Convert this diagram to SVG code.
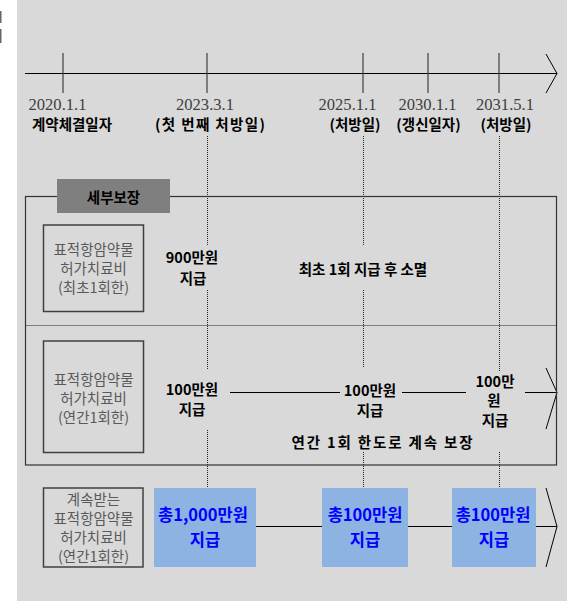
<svg xmlns="http://www.w3.org/2000/svg" width="567" height="601" viewBox="0 0 567 601">
<style>
.bg{fill:#d9d9d9}
.date{font-family:"Liberation Serif",serif;font-size:17px;fill:#404040;text-anchor:middle}
.lbl{font-family:"Noto Sans CJK KR",sans-serif;font-weight:700;font-size:14.5px;fill:#000;text-anchor:middle}
.box{fill:#d9d9d9;stroke:#404040;stroke-width:1.5}
.btxt{font-family:"Noto Sans CJK KR",sans-serif;font-size:14.5px;fill:#595959;text-anchor:middle}
.blue{fill:#8db3e2}
.btx{font-family:"Noto Sans CJK KR",sans-serif;font-weight:700;font-size:16.5px;fill:#0000ff;text-anchor:middle}
.ln{stroke:#000;stroke-width:1;fill:none}
.tick{stroke:#404040;stroke-width:1.2}
.dot{stroke:#262626;stroke-width:1;stroke-dasharray:1,1;fill:none}
</style>
<rect x="0" y="11" width="1.5" height="12" fill="#666"/>
<rect x="0" y="29" width="1.5" height="14" fill="#666"/>
<rect class="bg" x="17" y="0" width="550" height="601"/>

<g id="connectors">
  <line class="ln" x1="25" y1="73.5" x2="557" y2="73.5"/>
  <polyline class="ln" points="546,54 557,73.5 546,93"/>
  <line class="tick" x1="63" y1="53" x2="63" y2="93"/>
  <line class="tick" x1="207" y1="53" x2="207" y2="93"/>
  <line class="tick" x1="363" y1="53" x2="363" y2="93"/>
  <line class="tick" x1="428" y1="53" x2="428" y2="93"/>
  <line class="tick" x1="499" y1="53" x2="499" y2="93"/>
  <path class="dot" d="M207.5,136V245M207.5,290V370M207.5,430V488M363.5,136V245M363.5,290V368M363.5,452V488M499.5,136V371M499.5,452V488"/>
  <path class="ln" d="M230,392.5H340M402,392.5H466M525,392.5H557"/>
  <polyline class="ln" points="546,368 557,392.5 546,429"/>
  <path class="ln" d="M256,526.5H322M408,526.5H452M536,526.5H557"/>
  <polyline class="ln" points="546,488 557,526.5 546,567"/>
</g>

<g id="dates">
  <text class="date" x="57.5" y="110" textLength="58" lengthAdjust="spacingAndGlyphs">2020.1.1</text>
  <text class="date" x="205" y="110" textLength="58" lengthAdjust="spacingAndGlyphs">2023.3.1</text>
  <text class="date" x="347.5" y="110" textLength="58" lengthAdjust="spacingAndGlyphs">2025.1.1</text>
  <text class="date" x="427.5" y="110" textLength="58" lengthAdjust="spacingAndGlyphs">2030.1.1</text>
  <text class="date" x="505" y="110" textLength="58" lengthAdjust="spacingAndGlyphs">2031.5.1</text>
  <text class="lbl" x="72" y="130">계약체결일자</text>
  <text class="lbl" x="210" y="130" textLength="110" lengthAdjust="spacing">(첫 번째 처방일)</text>
  <text class="lbl" x="355" y="130">(처방일)</text>
  <text class="lbl" x="428.5" y="130">(갱신일자)</text>
  <text class="lbl" x="506" y="130">(처방일)</text>
</g>

<g id="section">
  <rect x="25.5" y="196.5" width="531" height="268.5" fill="none" stroke="#333" stroke-width="1.2"/>
  <line class="dot" x1="25.5" y1="325.5" x2="556.5" y2="325.5"/>
</g>
<g id="tab">
  <rect x="57" y="179" width="113" height="34" fill="#7f7f7f"/>
  <text class="lbl" x="113.5" y="202.5" font-size="15">세부보장</text>
</g>

<g id="box-first">
  <rect class="box" x="43.5" y="225" width="100" height="86.5"/>
  <text class="btxt" x="93.5" y="254.5">표적항암약물</text>
  <text class="btxt" x="93.5" y="273.5">허가치료비</text>
  <text class="btxt" x="93.5" y="292.5">(최초1회한)</text>
</g>
<g id="first-pay">
  <text class="lbl" x="192" y="263">900만원</text>
  <text class="lbl" x="193" y="283.5">지급</text>
</g>
<g id="first-note">
  <text class="lbl" x="363" y="274.5">최초 1회 지급 후 소멸</text>
</g>

<g id="box-annual">
  <rect class="box" x="43.5" y="341" width="100" height="111.5"/>
  <text class="btxt" x="93.5" y="384.5">표적항암약물</text>
  <text class="btxt" x="93.5" y="403.5">허가치료비</text>
  <text class="btxt" x="93.5" y="422.5">(연간1회한)</text>
</g>
<g id="annual-pay1">
  <text class="lbl" x="192" y="395">100만원</text>
  <text class="lbl" x="192" y="415">지급</text>
</g>
<g id="annual-pay2">
  <text class="lbl" x="370" y="396">100만원</text>
  <text class="lbl" x="370" y="416">지급</text>
</g>
<g id="annual-pay3">
  <text class="lbl" x="495" y="386.5">100만</text>
  <text class="lbl" x="494" y="406">원</text>
  <text class="lbl" x="495" y="425.5">지급</text>
</g>
<g id="annual-note">
  <text class="lbl" x="382" y="447.5" textLength="181" lengthAdjust="spacing">연간 1회 한도로 계속 보장</text>
</g>

<g id="box-continued">
  <rect class="box" x="43.5" y="488" width="99.5" height="79"/>
  <text class="btxt" x="93.5" y="504.5">계속받는</text>
  <text class="btxt" x="93.5" y="523.5">표적항암약물</text>
  <text class="btxt" x="93.5" y="542.5">허가치료비</text>
  <text class="btxt" x="93.5" y="561.5">(연간1회한)</text>
</g>
<g id="total1">
  <rect class="blue" x="154" y="488" width="102" height="79"/>
  <text class="btx" x="203" y="521">총1,000만원</text>
  <text class="btx" x="205" y="546">지급</text>
</g>
<g id="total2">
  <rect class="blue" x="322" y="488" width="86" height="79"/>
  <text class="btx" x="365" y="521">총100만원</text>
  <text class="btx" x="365" y="546">지급</text>
</g>
<g id="total3">
  <rect class="blue" x="452" y="488" width="84" height="79"/>
  <text class="btx" x="493" y="521">총100만원</text>
  <text class="btx" x="494" y="546">지급</text>
</g>
</svg>
